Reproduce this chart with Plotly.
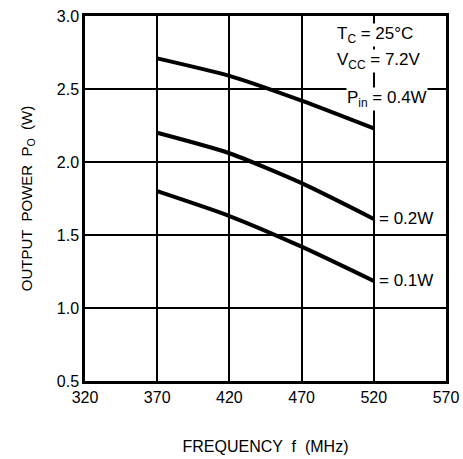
import plotly.graph_objects as go

freq = [370, 420, 470, 520]
p_in_04 = [2.71, 2.59, 2.42, 2.23]
p_in_02 = [2.20, 2.06, 1.855, 1.61]
p_in_01 = [1.80, 1.63, 1.42, 1.185]

x_ticks = [320, 370, 420, 470, 520, 570]
y_ticks = [0.5, 1.0, 1.5, 2.0, 2.5, 3.0]

FONT = "Liberation Sans"

fig = go.Figure()
for ys in (p_in_04, p_in_02, p_in_01):
    fig.add_trace(go.Scatter(x=freq, y=ys, mode="lines",
                             line=dict(color="black", width=4, shape="spline", smoothing=0.6),
                             showlegend=False, hoverinfo="skip"))

ann_font = dict(family=FONT, size=17, color="black")
labels = [
    (494, 2.87, "T<sub>C</sub> = 25°C"),
    (494, 2.69, "V<sub>CC</sub> = 7.2V"),
    (501, 2.43, "P<sub>in</sub> = 0.4W"),
    (523, 1.61, "= 0.2W"),
    (523, 1.19, "= 0.1W"),
]
for x, y, t in labels:
    fig.add_annotation(x=x, y=y, text=t, showarrow=False, xanchor="left", yanchor="middle",
                       font=ann_font, bgcolor="white", borderpad=0)

fig.update_xaxes(range=[320, 570], tickvals=x_ticks, ticktext=[str(v) for v in x_ticks],
                 showgrid=True, gridcolor="black", gridwidth=1.5,
                 showline=True, linecolor="black", linewidth=2.5, mirror=True,
                 ticks="", zeroline=False, automargin=False, ticklabeloverflow="allow",
                 tickfont=dict(family=FONT, size=16, color="black"),
                 title=dict(text="FREQUENCY  f  (MHz)", standoff=36,
                            font=dict(family=FONT, size=16, color="black")))
fig.update_yaxes(range=[0.5, 3.0], tickvals=y_ticks, ticktext=[f"{v:.1f}" for v in y_ticks],
                 showgrid=True, gridcolor="black", gridwidth=1.5,
                 showline=True, linecolor="black", linewidth=2.5, mirror=True,
                 ticks="", zeroline=False, automargin=False, ticklabeloverflow="allow",
                 tickfont=dict(family=FONT, size=16, color="black"),
                 title=dict(text="OUTPUT  POWER  P<sub>O</sub>  (W)", standoff=21,
                            font=dict(family=FONT, size=15, color="black")))

fig.update_layout(width=463, height=459, margin=dict(l=85, r=17, t=16, b=78),
                  plot_bgcolor="white", paper_bgcolor="white")

fig.write_html("out.html", config={"displayModeBar": False},
               post_script="document.body.style.margin='0';")
